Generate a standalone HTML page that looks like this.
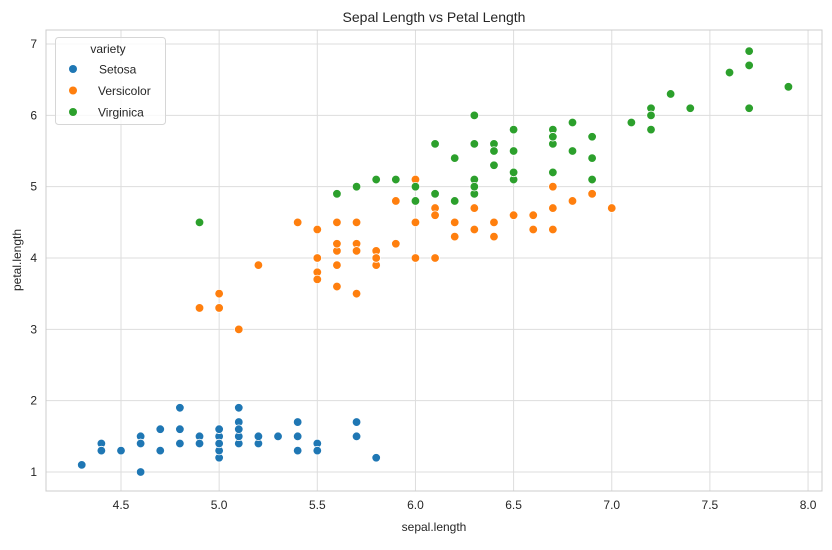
<!DOCTYPE html>
<html><head><meta charset="utf-8"><style>
body{margin:0;background:#fff;}
svg text{font-family:"Liberation Sans",Arial,sans-serif;fill:#262626;}
</style></head><body>
<svg id="chart" width="832" height="545" xmlns="http://www.w3.org/2000/svg">
<rect x="0" y="0" width="832" height="545" fill="#fff"/>
<g id="grid"></g>
<g id="dots"></g>
<rect x="46" y="30" width="776" height="461" fill="none" stroke="#cccccc" stroke-width="1"/>
<text x="434" y="22" text-anchor="middle" font-size="14">Sepal Length vs Petal Length</text>
<text x="434" y="531" text-anchor="middle" font-size="12">sepal.length</text>
<text transform="translate(21,260) rotate(-90)" text-anchor="middle" font-size="12">petal.length</text>
<g>
<rect x="55.5" y="37.5" width="110" height="87" rx="3" fill="#fff" fill-opacity="0.8" stroke="#d6d6d6"/>
<text x="108" y="53" text-anchor="middle" font-size="12">variety</text>
<g><circle cx="73" cy="69" r="4" fill="#1f77b4"/><text x="99" y="73.5" font-size="12">Setosa</text></g>
<g><circle cx="73" cy="90.5" r="4" fill="#ff7f0e"/><text x="98" y="95" font-size="12">Versicolor</text></g>
<g><circle cx="73" cy="112" r="4" fill="#2ca02c"/><text x="98" y="116.5" font-size="12">Virginica</text></g>
</g>
</svg>
<script>
const xTicks=[4.5,5.0,5.5,6.0,6.5,7.0,7.5,8.0];
const yTicks=[1,2,3,4,5,6,7];
const setosaX=[5.1,4.9,4.7,4.6,5.0,5.4,4.6,5.0,4.4,4.9,5.4,4.8,4.8,4.3,5.8,5.7,5.4,5.1,5.7,5.1,5.4,5.1,4.6,5.1,4.8,5.0,5.0,5.2,5.2,4.7,4.8,5.4,5.2,5.5,4.9,5.0,5.5,4.9,4.4,5.1,5.0,4.5,4.4,5.0,5.1,4.8,5.1,4.6,5.3,5.0];
const setosaY=[1.4,1.4,1.3,1.5,1.4,1.7,1.4,1.5,1.4,1.5,1.5,1.6,1.4,1.1,1.2,1.5,1.3,1.4,1.7,1.5,1.7,1.5,1.0,1.7,1.9,1.6,1.6,1.5,1.4,1.6,1.6,1.5,1.5,1.4,1.5,1.2,1.3,1.4,1.3,1.5,1.3,1.3,1.3,1.6,1.9,1.4,1.6,1.4,1.5,1.4];
const versicolorX=[7.0,6.4,6.9,5.5,6.5,5.7,6.3,4.9,6.6,5.2,5.0,5.9,6.0,6.1,5.6,6.7,5.6,5.8,6.2,5.6,5.9,6.1,6.3,6.1,6.4,6.6,6.8,6.7,6.0,5.7,5.5,5.5,5.8,6.0,5.4,6.0,6.7,6.3,5.6,5.5,5.5,6.1,5.8,5.0,5.6,5.7,5.7,6.2,5.1,5.7];
const versicolorY=[4.7,4.5,4.9,4.0,4.6,4.5,4.7,3.3,4.6,3.9,3.5,4.2,4.0,4.7,3.6,4.4,4.5,4.1,4.5,3.9,4.8,4.0,4.9,4.7,4.3,4.4,4.8,5.0,4.5,3.5,3.8,3.7,3.9,5.1,4.5,4.5,4.7,4.4,4.1,4.0,4.4,4.6,4.0,3.3,4.2,4.2,4.2,4.3,3.0,4.1];
const virginicaX=[6.3,5.8,7.1,6.3,6.5,7.6,4.9,7.3,6.7,7.2,6.5,6.4,6.8,5.7,5.8,6.4,6.5,7.7,7.7,6.0,6.9,5.6,7.7,6.3,6.7,7.2,6.2,6.1,6.4,7.2,7.4,7.9,6.4,6.3,6.1,7.7,6.3,6.4,6.0,6.9,6.7,6.9,5.8,6.8,6.7,6.7,6.3,6.5,6.2,5.9];
const virginicaY=[6.0,5.1,5.9,5.6,5.8,6.6,4.5,6.3,5.8,6.1,5.1,5.3,5.5,5.0,5.1,5.3,5.5,6.7,6.9,5.0,5.7,4.9,6.7,4.9,5.7,6.0,4.8,4.9,5.6,5.8,6.1,6.4,5.6,5.1,5.6,6.1,5.6,5.5,4.8,5.4,5.6,5.1,5.1,5.9,5.7,5.2,5.0,5.2,5.4,5.1];
const NS="http://www.w3.org/2000/svg";
function xs(v){return 121+(v-4.5)*196.3;}
function ys(v){return 472-(v-1)*71.33;}
const grid=document.getElementById('grid');
function mk(tag,attrs,parent){const e=document.createElementNS(NS,tag);for(const k in attrs)e.setAttribute(k,attrs[k]);parent.appendChild(e);return e;}
xTicks.forEach(t=>{
  const l=mk('line',{x1:xs(t),x2:xs(t),y1:30,y2:491,stroke:'#dddddd'},grid);
  
  
  const tx=mk('text',{x:xs(t),y:509,'text-anchor':'middle','font-size':12},grid);
  tx.textContent=t.toFixed(1);
  
  
});
yTicks.forEach(t=>{
  const l=mk('line',{x1:46,x2:822,y1:ys(t),y2:ys(t),stroke:'#dddddd'},grid);
  
  
  const tx=mk('text',{x:37,y:ys(t)+4,'text-anchor':'end','font-size':12},grid);
  tx.textContent=t;
  
  
});
const dots=document.getElementById('dots');
[[setosaX,setosaY,'#1f77b4','setosa'],[versicolorX,versicolorY,'#ff7f0e','versicolor'],[virginicaX,virginicaY,'#2ca02c','virginica']].forEach(s=>{
  s[0].forEach((x,i)=>{
    const c=mk('circle',{cx:xs(x),cy:ys(s[1][i]),r:4.3,fill:s[2],stroke:'#fff','stroke-width':0.8},dots);
    
    
  });
});
</script>
</body></html>
